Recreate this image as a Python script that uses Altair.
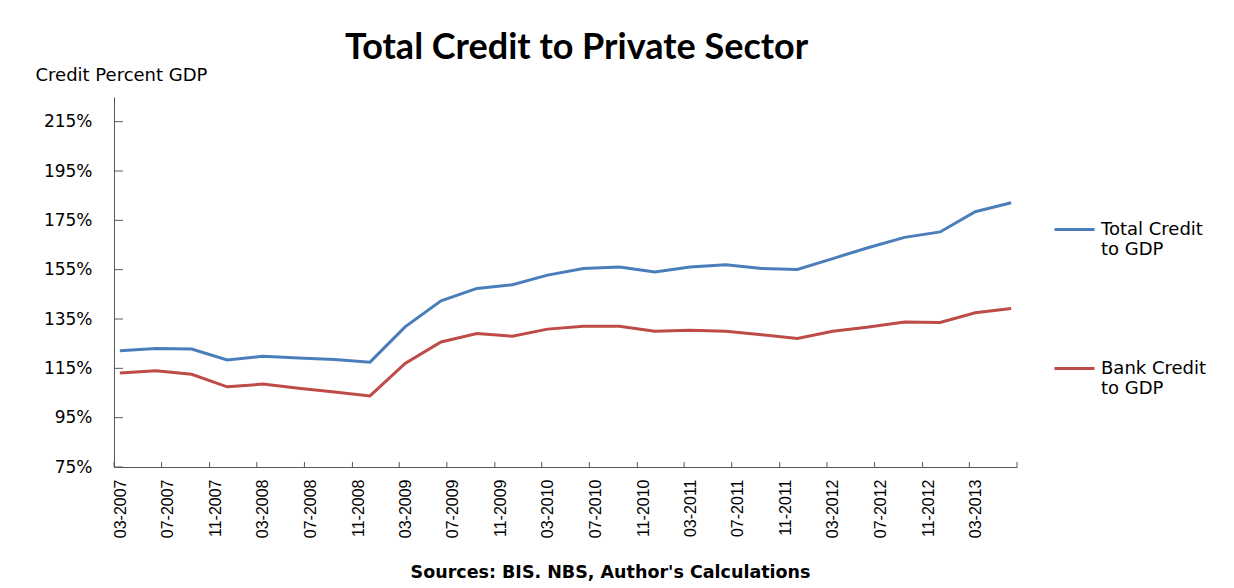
import altair as alt
import pandas as pd

# quarterly observations (mid-month of the quarter's final month)
dates = [
    "2007-03-16", "2007-06-16", "2007-09-16", "2007-12-16",
    "2008-03-16", "2008-06-16", "2008-09-16", "2008-12-16",
    "2009-03-16", "2009-06-16", "2009-09-16", "2009-12-16",
    "2010-03-16", "2010-06-16", "2010-09-16", "2010-12-16",
    "2011-03-16", "2011-06-16", "2011-09-16", "2011-12-16",
    "2012-03-16", "2012-06-16", "2012-09-16", "2012-12-16",
    "2013-03-16", "2013-06-16",
]
total_credit = [122.1, 123.0, 122.8, 118.4, 119.9, 119.2, 118.6, 117.5,
                131.8, 142.4, 147.4, 148.9, 152.8, 155.5, 156.1, 154.1,
                156.1, 157.0, 155.5, 155.1, 159.5, 164.0, 168.1, 170.3,
                178.5, 182.1]
bank_credit = [113.1, 114.0, 112.6, 107.5, 108.6, 106.9, 105.4, 103.8,
               117.0, 125.7, 129.1, 128.0, 130.9, 132.1, 132.1, 130.0,
               130.4, 130.0, 128.6, 127.1, 130.0, 131.8, 133.8, 133.6,
               137.5, 139.3]
series_names = ["Total Credit to GDP", "Bank Credit to GDP"]
series_colors = ["#4A7EBB", "#BE4B48"]
y_ticks = [75, 95, 115, 135, 155, 175, 195, 215]
x_label_ticks = [(2007, 3), (2007, 7), (2007, 11), (2008, 3), (2008, 7), (2008, 11),
                 (2009, 3), (2009, 7), (2009, 11), (2010, 3), (2010, 7), (2010, 11),
                 (2011, 3), (2011, 7), (2011, 11), (2012, 3), (2012, 7), (2012, 11),
                 (2013, 3)]
x_mark_ticks = x_label_ticks + [(2013, 7)]

df = pd.DataFrame({
    "date": dates * 2,
    "series": [series_names[0]] * len(dates) + [series_names[1]] * len(dates),
    "value": total_credit + bank_credit,
})
ytick_df = pd.DataFrame({"value": y_ticks})
xtick_df = pd.DataFrame({"date": [f"{y:04d}-{m:02d}-01" for y, m in x_mark_ticks]})

W, H = 903, 370
xscale = alt.Scale(domain=[alt.DateTime(year=2007, month=3, date=1, utc=True),
                           alt.DateTime(year=2013, month=7, date=1, utc=True)], nice=False)
yscale = alt.Scale(domain=[75, 225], nice=False, zero=False)

axis_color = "#595959"

x_axis = alt.Axis(
    values=[alt.DateTime(year=y, month=m, date=1, utc=True) for y, m in x_label_ticks],
    labelExpr="utcFormat(datum.value, '%m-%Y')", labelAngle=270, labelOffset=6,
    labelPadding=12, ticks=False, grid=False, domainColor=axis_color,
    labelFont="Liberation Sans", labelFontSize=16, labelColor="#000000",
    title="Sources: BIS. NBS, Author's Calculations",
    titleFont="DejaVu Sans", titleFontSize=17.5, titleFontWeight="bold",
    titleColor="#000000", titleX=496, titleY=110, titleAlign="center",
    titleBaseline="alphabetic", labelOverlap=False)
y_axis = alt.Axis(values=y_ticks, labelExpr="datum.value + '%'", ticks=False,
                  grid=False, labelPadding=22, domainColor=axis_color,
                  labelFont="DejaVu Sans", labelFontSize=17, labelColor="#000000",
                  title="Credit Percent GDP", titleAngle=0, titleAlign="left",
                  titleBaseline="alphabetic", titleX=-79, titleY=-17,
                  titleFont="DejaVu Sans", titleFontSize=18, titleFontWeight="normal",
                  titleColor="#000000")

lines = alt.Chart(df).mark_line(strokeWidth=3).encode(
    x=alt.X("date:T", scale=xscale, axis=x_axis),
    y=alt.Y("value:Q", scale=yscale, axis=y_axis),
    color=alt.Color("series:N",
                    scale=alt.Scale(domain=series_names, range=series_colors),
                    legend=alt.Legend(
                        title=None, orient="none", legendX=939, legendY=111,
                        symbolType="stroke", symbolSize=1600, symbolStrokeWidth=3,
                        labelFont="DejaVu Sans", labelFontSize=18, labelColor="#000000",
                        labelOffset=5, rowPadding=88, labelBaseline="middle",
                        labelExpr="datum.label == 'Total Credit to GDP' ? ['Total Credit', 'to GDP'] : ['Bank Credit', 'to GDP']")),
)

yticks_layer = alt.Chart(ytick_df).mark_rule(color=axis_color, strokeWidth=1).encode(
    y=alt.Y("value:Q", scale=yscale, axis=y_axis),
    x=alt.value(0), x2=alt.value(9),
)
xticks_layer = alt.Chart(xtick_df).mark_rule(color=axis_color, strokeWidth=1).encode(
    x=alt.X("date:T", scale=xscale, axis=x_axis),
    y=alt.value(H), y2=alt.value(H - 5),
)

chart = alt.layer(lines, yticks_layer, xticks_layer).properties(
    width=W, height=H,
    title=alt.TitleParams("Total Credit to Private Sector", font="Lato", fontSize=36,
                          fontWeight="bold", color="#000000", anchor="middle", dx=11,
                          offset=-1),
    autosize=alt.AutoSizeParams(type="none"),
    padding={"left": 114, "top": 97, "right": 217, "bottom": 121},
    background="white",
).configure_view(stroke=None)

chart.save("out.html", embed_options={"renderer": "svg", "actions": False})
